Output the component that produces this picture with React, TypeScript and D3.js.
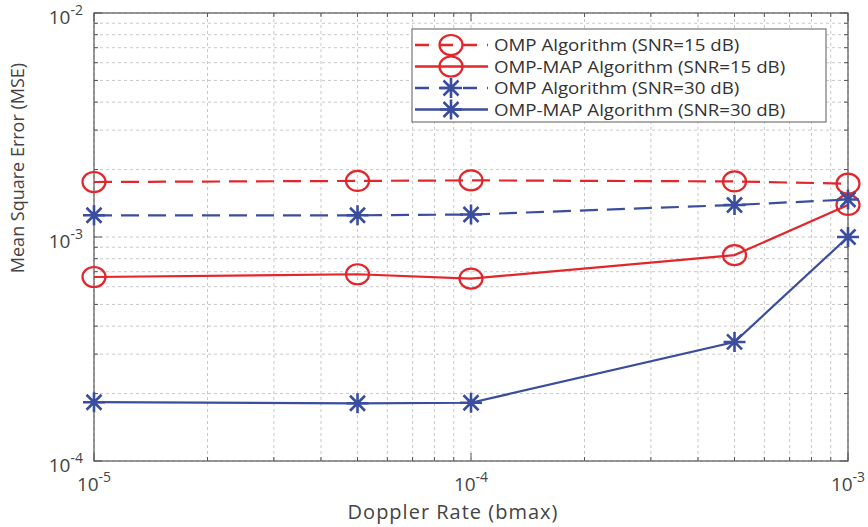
import React from "react";
import * as d3 from "d3";

const doppler = [1e-5, 5e-5, 1e-4, 5e-4, 1e-3];
const ompSnr15 = [1.76e-3, 1.78e-3, 1.79e-3, 1.77e-3, 1.73e-3];
const ompMapSnr15 = [6.63e-4, 6.82e-4, 6.52e-4, 8.3e-4, 1.39e-3];
const ompSnr30 = [1.25e-3, 1.25e-3, 1.26e-3, 1.39e-3, 1.47e-3];
const ompMapSnr30 = [1.83e-4, 1.81e-4, 1.82e-4, 3.4e-4, 1.0e-3];

const seriesNames = [
  "OMP Algorithm (SNR=15 dB)",
  "OMP-MAP Algorithm (SNR=15 dB)",
  "OMP Algorithm (SNR=30 dB)",
  "OMP-MAP Algorithm (SNR=30 dB)",
];
const xTickExps = [-5, -4, -3];
const yTickExps = [-4, -3, -2];
const xLabel = "Doppler Rate (bmax)";
const yLabel = "Mean Square Error (MSE)";

const RED = "#e3262b";
const BLUE = "#3a4d9f";
const FONT = "'Open Sans', 'Noto Sans', sans-serif";

const series = [
  { name: seriesNames[0], values: ompSnr15, color: RED, dashed: true, marker: "circle" },
  { name: seriesNames[1], values: ompMapSnr15, color: RED, dashed: false, marker: "circle" },
  { name: seriesNames[2], values: ompSnr30, color: BLUE, dashed: true, marker: "star" },
  { name: seriesNames[3], values: ompMapSnr30, color: BLUE, dashed: false, marker: "star" },
];

const Marker = ({ type, x, y, color }: { type: string; x: number; y: number; color: string }) => {
  if (type === "circle") {
    return <ellipse cx={x} cy={y} rx={11.5} ry={10} fill="none" stroke={color} strokeWidth={2.2} />;
  }
  const s = 11;
  const d = 7.5;
  const p = `M${-s},0L${s},0M0,${-s + 1}L0,${s - 1}M${-d},${-d}L${d},${d}M${-d},${d}L${d},${-d}`;
  return <path d={p} transform={`translate(${x},${y})`} fill="none" stroke={color} strokeWidth={2.6} />;
};

export default function App() {
  const W = 868, H = 527;
  const L = 94, R = 848, T = 13, B = 461;
  const x = d3.scaleLog().domain([1e-5, 1e-3]).range([L, R]);
  const y = d3.scaleLog().domain([1e-4, 1e-2]).range([B, T]);

  const minorX: number[] = [];
  const minorY: number[] = [];
  for (let e = -5; e < -3; e++) for (let m = 2; m <= 9; m++) minorX.push(m * Math.pow(10, e));
  for (let e = -4; e < -2; e++) for (let m = 2; m <= 9; m++) minorY.push(m * Math.pow(10, e));
  const majorX = xTickExps.map((e) => Math.pow(10, e));
  const majorY = yTickExps.map((e) => Math.pow(10, e));

  const line = d3
    .line<number>()
    .x((_, i) => x(doppler[i]))
    .y((v) => y(v));

  const gridStyle = { stroke: "#c8c8c8", strokeWidth: 1, strokeDasharray: "3,3" };
  const axisColor = "#555";
  const textColor = "#444";

  return (
    <svg width={W} height={H} style={{ position: "absolute", left: 0, top: 0, background: "#fff" }} fontFamily={FONT}>
      <rect x={0} y={0} width={W} height={H} fill="#fff" />
      {/* grid */}
      {[...minorX, ...majorX].map((v, i) => (
        <line key={"gx" + i} x1={x(v)} x2={x(v)} y1={T} y2={B} {...gridStyle} />
      ))}
      {[...minorY, ...majorY].map((v, i) => (
        <line key={"gy" + i} x1={L} x2={R} y1={y(v)} y2={y(v)} {...gridStyle} />
      ))}
      {/* ticks */}
      {minorX.map((v, i) => (
        <g key={"tx" + i} stroke={axisColor} strokeWidth={1}>
          <line x1={x(v)} x2={x(v)} y1={B} y2={B - 4} />
          <line x1={x(v)} x2={x(v)} y1={T} y2={T + 4} />
        </g>
      ))}
      {minorY.map((v, i) => (
        <g key={"ty" + i} stroke={axisColor} strokeWidth={1}>
          <line x1={L} x2={L + 4} y1={y(v)} y2={y(v)} />
          <line x1={R} x2={R - 4} y1={y(v)} y2={y(v)} />
        </g>
      ))}
      {majorX.map((v, i) => (
        <g key={"mx" + i} stroke={axisColor} strokeWidth={1}>
          <line x1={x(v)} x2={x(v)} y1={B} y2={B - 8} />
          <line x1={x(v)} x2={x(v)} y1={T} y2={T + 8} />
        </g>
      ))}
      {majorY.map((v, i) => (
        <g key={"my" + i} stroke={axisColor} strokeWidth={1}>
          <line x1={L} x2={L + 8} y1={y(v)} y2={y(v)} />
          <line x1={R} x2={R - 8} y1={y(v)} y2={y(v)} />
        </g>
      ))}
      <rect x={L} y={T} width={R - L} height={B - T} fill="none" stroke={axisColor} strokeWidth={1.2} />
      {/* tick labels */}
      {xTickExps.map((e, i) => (
        <text key={"xl" + i} x={x(Math.pow(10, e))} y={491} textAnchor="middle" fill={textColor} fontSize={19}>
          <tspan>10</tspan>
          <tspan dy={-9} fontSize={14}>{"-" + Math.abs(e)}</tspan>
        </text>
      ))}
      {yTickExps.map((e, i) => (
        <text key={"yl" + i} x={83} y={y(Math.pow(10, e)) + 11} textAnchor="end" fill={textColor} fontSize={19}>
          <tspan>10</tspan>
          <tspan dy={-9} fontSize={14}>{"-" + Math.abs(e)}</tspan>
        </text>
      ))}
      {/* axis labels */}
      <text x={453} y={519} textAnchor="middle" fill={textColor} fontSize={20} letterSpacing={1}>
        {xLabel}
      </text>
      <text transform="translate(24,168) rotate(-90)" textAnchor="middle" fill={textColor} fontSize={18}>
        {yLabel}
      </text>
      {/* series */}
      {series.map((s, si) => (
        <g key={"s" + si}>
          <path
            d={line(s.values) || ""}
            fill="none"
            stroke={s.color}
            strokeWidth={2.2}
            strokeDasharray={s.dashed ? "18,9" : undefined}
          />
          {s.values.map((v, i) => (
            <Marker key={i} type={s.marker} x={x(doppler[i])} y={y(v)} color={s.color} />
          ))}
        </g>
      ))}
      {/* legend */}
      <g>
        <rect x={412} y={29} width={414} height={93} fill="#fff" stroke="#777" strokeWidth={1.2} />
        {series.map((s, i) => {
          const ly = 45 + i * 21.5;
          return (
            <g key={"lg" + i}>
              <line
                x1={415}
                x2={488}
                y1={ly}
                y2={ly}
                stroke={s.color}
                strokeWidth={2.6}
                strokeDasharray={s.dashed ? "14,10" : undefined}
              />
              <Marker type={s.marker} x={451} y={ly} color={s.color} />
              <text
                transform={`translate(494,${ly + 6}) scale(1.1,1)`}
                fill="#333"
                fontSize={17}
              >
                {s.name}
              </text>
            </g>
          );
        })}
      </g>
    </svg>
  );
}
